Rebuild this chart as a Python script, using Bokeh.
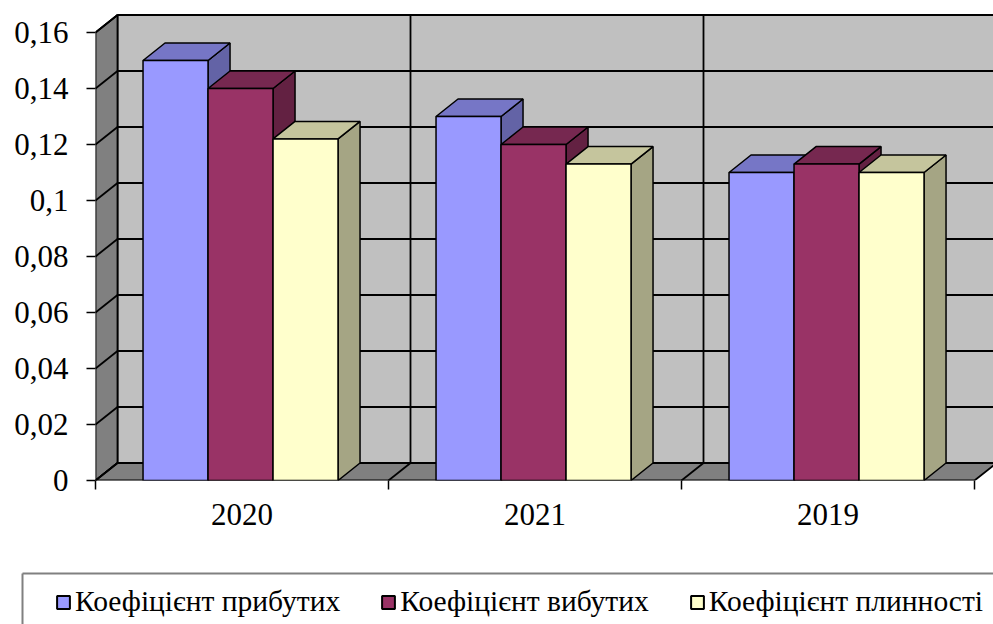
from bokeh.plotting import figure
from bokeh.models import Range1d, FixedTicker, Legend, LegendItem, ColumnDataSource
from bokeh.layouts import column
from bokeh.core.properties import value
from bokeh.embed import file_html
from bokeh.resources import INLINE

# ---------------- data ----------------
categories = ["2020", "2021", "2019"]
series_names = ["Коефіцієнт прибутих", "Коефіцієнт вибутих", "Коефіцієнт плинності"]
k_prybutykh = [0.15, 0.13, 0.11]
k_vybutykh = [0.14, 0.12, 0.113]
k_plynnosti = [0.122, 0.113, 0.11]
y_ticks = [0, 0.02, 0.04, 0.06, 0.08, 0.1, 0.12, 0.14, 0.16]
y_tick_labels = ["0", "0,02", "0,04", "0,06", "0,08", "0,1", "0,12", "0,14", "0,16"]

# ---------------- style / layout ----------------
series = [k_prybutykh, k_vybutykh, k_plynnosti]
front_colors = ["#9999FF", "#993366", "#FFFFCC"]
top_colors = ["#7676C6", "#762850", "#C5C59D"]
side_colors = ["#6363A6", "#632142", "#A5A584"]

PX_PER_CAT = 293.0
PX_PER_VAL = 2800.0
FRAME_W = 898
FRAME_H = 476
DX = 22 / PX_PER_CAT
DY = 17.5 / PX_PER_VAL
BW = 65 / PX_PER_CAT
CENTER = 0.495
n = len(categories)
y_top = y_ticks[-1]
x_end = FRAME_W / PX_PER_CAT
FONT = "Liberation Serif"
LW = 1.8

p = figure(width=993, height=560,
           x_range=Range1d(0, x_end), y_range=Range1d(0, FRAME_H / PX_PER_VAL),
           min_border_left=95, min_border_right=0, min_border_top=4, min_border_bottom=80,
           output_backend="svg", toolbar_location=None, frame_align=False,
           outline_line_color=None, background_fill_color="white", border_fill_color="white")
p.grid.visible = False

# walls
p.quad(left=[DX], right=[x_end + 1], bottom=[DY], top=[y_top + DY],
       fill_color="#C0C0C0", line_color="black", line_width=LW)
p.patch(x=[0, DX, DX, 0], y=[0, DY, y_top + DY, y_top],
        fill_color="#808080", line_color="black", line_width=LW)
p.patch(x=[0, n, n + DX, DX], y=[0, 0, DY, DY],
        fill_color="#808080", line_color="black", line_width=LW)

# back wall grid
hv = y_ticks[1:-1]
p.segment(x0=[DX] * len(hv), y0=[v + DY for v in hv], x1=[x_end + 1] * len(hv), y1=[v + DY for v in hv],
          line_color="black", line_width=LW)
vk = list(range(1, n + 1))
p.segment(x0=[k + DX for k in vk], y0=[DY] * len(vk), x1=[k + DX for k in vk], y1=[y_top + DY] * len(vk),
          line_color="black", line_width=LW)
# side wall diagonals
p.segment(x0=[0] * len(y_ticks), y0=y_ticks, x1=[DX] * len(y_ticks), y1=[v + DY for v in y_ticks],
          line_color="black", line_width=LW)
# floor diagonals
fk = list(range(1, n))
p.segment(x0=fk, y0=[0] * len(fk), x1=[k + DX for k in fk], y1=[DY] * len(fk),
          line_color="black", line_width=LW)

# bars
side_xs, side_ys, side_fc = [], [], []
top_xs, top_ys, top_fc = [], [], []
lefts = [[], [], []]
rights = [[], [], []]
for i in range(n):
    for j in range(3):
        l = i + CENTER + (j - 1.5) * BW
        r = l + BW
        v = series[j][i]
        lefts[j].append(l)
        rights[j].append(r)
        side_xs.append([r, r + DX, r + DX, r])
        side_ys.append([0, DY, v + DY, v])
        side_fc.append(side_colors[j])
        top_xs.append([l, r, r + DX, l + DX])
        top_ys.append([v, v, v + DY, v + DY])
        top_fc.append(top_colors[j])

p.patches("xs", "ys", source=ColumnDataSource(dict(xs=side_xs, ys=side_ys, fc=side_fc)),
          fill_color="fc", line_color="black", line_width=1.5)
p.patches("xs", "ys", source=ColumnDataSource(dict(xs=top_xs, ys=top_ys, fc=top_fc)),
          fill_color="fc", line_color="black", line_width=1.5)

for j in range(3):
    p.quad(left=lefts[j], right=rights[j], bottom=[0] * n, top=series[j],
           fill_color=front_colors[j], line_color="black", line_width=1.5)

# axes
xa = p.xaxis[0]
xa.ticker = FixedTicker(ticks=[i + 0.5 for i in range(n)], minor_ticks=list(range(n + 1)))
xa.major_label_overrides = {i + 0.5: categories[i] for i in range(n)}
xa.major_tick_out = 0
xa.major_tick_in = 0
xa.minor_tick_out = 9
xa.minor_tick_in = 0
xa.minor_tick_line_color = "black"
xa.minor_tick_line_width = 1.5
xa.axis_line_color = None
xa.major_label_standoff = 14
xa.major_label_text_font = FONT
xa.major_label_text_font_size = "31px"
xa.major_label_text_color = "black"

ya = p.yaxis[0]
ya.ticker = FixedTicker(ticks=y_ticks, minor_ticks=[])
ya.major_label_overrides = dict(zip(y_ticks, y_tick_labels))
ya.major_tick_out = 9
ya.major_tick_in = 0
ya.major_tick_line_color = "black"
ya.major_tick_line_width = 1.5
ya.axis_line_color = None
ya.major_label_standoff = 18
ya.major_label_text_font = FONT
ya.major_label_text_font_size = "31px"
ya.major_label_text_color = "black"

# ---------------- legend strip ----------------
LEG_H = 64
q = figure(width=993, height=LEG_H, x_range=Range1d(0, 993), y_range=Range1d(0, LEG_H),
           x_axis_location=None, y_axis_location=None, frame_align=False,
           min_border_left=0, min_border_right=0, min_border_top=0, min_border_bottom=0,
           output_backend="svg", toolbar_location=None, outline_line_color=None,
           background_fill_color="white", border_fill_color="white")
q.grid.visible = False
BOX_L = 22
BOX_T = LEG_H - 13
q.segment(x0=[BOX_L, BOX_L], y0=[BOX_T, BOX_T], x1=[1000, BOX_L], y1=[BOX_T, -5],
          line_color="#808080", line_width=2)

items = []
for j in range(3):
    r = q.quad(left=[-100], right=[-90], bottom=[-100], top=[-90],
               fill_color=front_colors[j], line_color="black", line_width=2)
    items.append(LegendItem(label=value(series_names[j]), renderers=[r]))

legend = Legend(items=items, location=(55, 6), orientation="horizontal", padding=10,
                glyph_width=16, glyph_height=16, label_standoff=4, spacing=40, margin=0,
                border_line_color=None, background_fill_alpha=0,
                label_text_font=FONT, label_text_font_size="29.5px", label_text_color="black")
q.add_layout(legend)

layout = column(p, q, spacing=0)
open("out.html", "w").write(file_html(layout, INLINE))
